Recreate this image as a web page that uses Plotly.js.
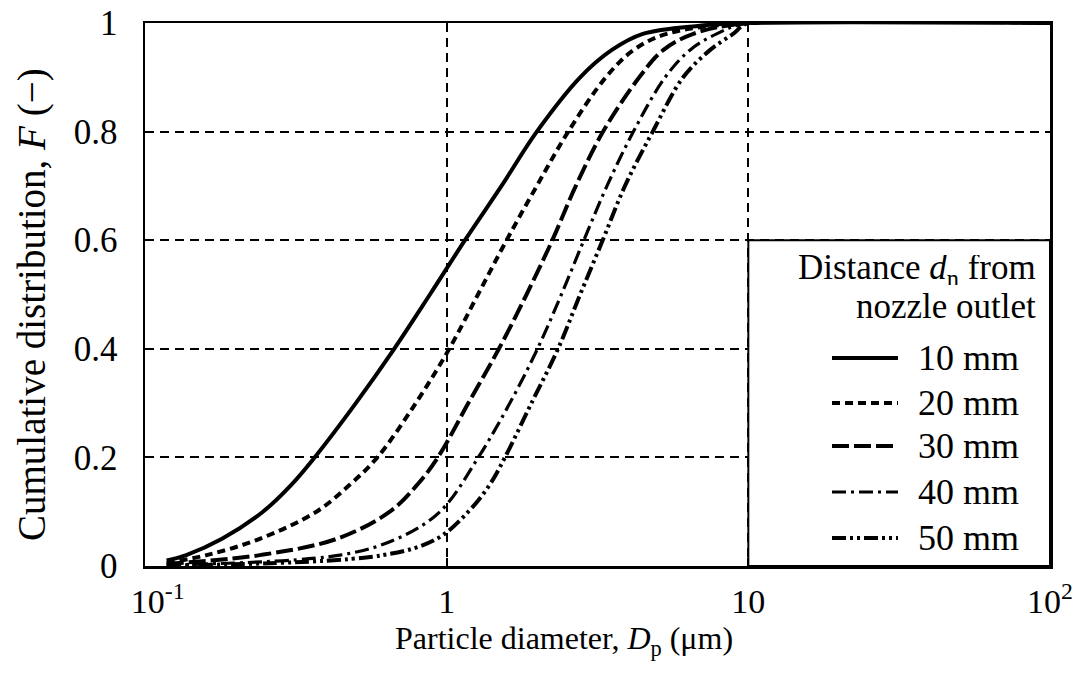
<!DOCTYPE html>
<html>
<head>
<meta charset="utf-8">
<script src="https://cdn.plot.ly/plotly-3.0.1.min.js"></script>
<style>html,body{margin:0;padding:0;background:#fff;}#chart{width:1085px;height:688px;}</style>
</head>
<body>
<div id="chart"></div>
<script>
// ---- data ----
const seriesNames = ["10 mm", "20 mm", "30 mm", "40 mm", "50 mm"];

const d10 = [0.118, 0.137, 0.18, 0.246, 0.306, 0.365, 0.50, 0.67, 0.88, 1.15, 1.52, 1.99, 2.77, 3.52, 4.47, 6.9, 10, 100];
const F10 = [0.010, 0.02, 0.05, 0.10, 0.15, 0.20, 0.30, 0.40, 0.50, 0.60, 0.70, 0.80, 0.90, 0.95, 0.98, 0.995, 1, 1];

const d20 = [0.118, 0.16, 0.24, 0.37, 0.478, 0.589, 0.79, 1.02, 1.27, 1.58, 1.99, 2.53, 3.37, 4.16, 5.36, 10, 100];
const F20 = [0.006, 0.02, 0.05, 0.10, 0.15, 0.20, 0.30, 0.40, 0.50, 0.60, 0.70, 0.80, 0.90, 0.95, 0.98, 1, 1];

const d30 = [0.118, 0.24, 0.432, 0.648, 0.80, 0.935, 1.18, 1.49, 1.84, 2.24, 2.68, 3.30, 4.35, 5.22, 6.57, 10, 100];
const F30 = [0.004, 0.02, 0.05, 0.10, 0.15, 0.20, 0.30, 0.40, 0.50, 0.60, 0.70, 0.80, 0.90, 0.95, 0.98, 1, 1];

const d40 = [0.118, 0.443, 0.683, 0.95, 1.273, 1.62, 2.0, 2.40, 2.85, 3.40, 4.16, 5.30, 6.40, 7.85, 10, 100];
const F40 = [0.002, 0.02, 0.05, 0.10, 0.20, 0.30, 0.40, 0.50, 0.60, 0.70, 0.80, 0.90, 0.95, 0.98, 1, 1];

const d50 = [0.118, 0.615, 0.927, 1.18, 1.39, 1.56, 1.91, 2.34, 2.77, 3.29, 3.90, 4.82, 6.08, 7.46, 8.9, 10, 100];
const F50 = [0.001, 0.02, 0.05, 0.10, 0.15, 0.20, 0.30, 0.40, 0.50, 0.60, 0.70, 0.80, 0.90, 0.95, 0.98, 1, 1];

const xTickVals = [0.1, 1, 10, 100];
const xTickText = ["\u00a0\u00a0\u00a010<sup>-1</sup>", "1", "10", "10<sup>2</sup>"];
const yTickVals = [0, 0.2, 0.4, 0.6, 0.8, 1];
const yTickText = ["0", "0.2", "0.4", "0.6", "0.8", "1"];

const legendTitle1 = "Distance <i>d</i><sub>n</sub> from";
const legendTitle2 = "nozzle outlet";
const xTitle = "Particle diameter, <i>D</i><sub>p</sub> (μm)";
const yTitle = "Cumulative distribution, <i>F</i> (−)";

// ---- styles ----
const styles = [
  {width: 4, dash: "solid"},
  {width: 4, dash: "8px,5px"},
  {width: 4, dash: "17px,5px"},
  {width: 3.2, dash: "14px,5px,3px,5px"},
  {width: 4, dash: "14px,4px,3px,4px,3px,4px"}
];
const xs = [d10, d20, d30, d40, d50];
const ys = [F10, F20, F30, F40, F50];

const traces = xs.map((x, i) => ({
  type: "scatter", mode: "lines", x: x, y: ys[i], name: seriesNames[i],
  line: {color: "black", width: styles[i].width, dash: styles[i].dash, shape: "spline", smoothing: 1},
  showlegend: false, hoverinfo: "skip"
}));

// plot area in pixels
const L = 145, R = 1050, T = 23, B = 566;
const px = p => (p - L) / (R - L);
const py = p => (B - p) / (B - T);

const FONT = "Liberation Serif";
const LEGSIZE = 36;

const shapes = [
  {type: "rect", xref: "x", yref: "y", x0: 10, x1: 100, y0: 0, y1: 0.6,
   fillcolor: "white", line: {color: "black", width: 2}, layer: "above"}
];
const annotations = [
  {xref: "paper", yref: "paper", x: px(1038), y: py(270), xanchor: "right", yanchor: "middle",
   height: 30, valign: "middle",
   text: legendTitle1, showarrow: false, font: {family: FONT, size: 35, color: "black"}},
  {xref: "paper", yref: "paper", x: px(1038), y: py(306), xanchor: "right", yanchor: "middle",
   height: 30, valign: "middle",
   text: legendTitle2, showarrow: false, font: {family: FONT, size: 35, color: "black"}},
  {xref: "paper", yref: "paper", x: px(564), y: py(640), xanchor: "center", yanchor: "middle",
   text: xTitle, showarrow: false, font: {family: FONT, size: 32, color: "black"}},
  {xref: "paper", yref: "paper", x: px(32), y: py(305), xanchor: "center", yanchor: "middle",
   text: yTitle, textangle: -90, showarrow: false, font: {family: FONT, size: 39, color: "black"}}
];
const rowY = [358, 403, 446, 492, 538];
rowY.forEach((r, i) => {
  shapes.push({type: "line", xref: "paper", yref: "paper", x0: px(832), x1: px(898), y0: py(r), y1: py(r),
    line: {color: "black", width: styles[i].width, dash: styles[i].dash}, layer: "above"});
  annotations.push({xref: "paper", yref: "paper", x: px(916), y: py(r), xanchor: "left", yanchor: "middle",
    height: 40, valign: "middle",
    text: seriesNames[i], showarrow: false, font: {family: FONT, size: LEGSIZE, color: "black"}});
});

const layout = {
  width: 1085, height: 688,
  margin: {l: L, r: 1085 - R, t: T, b: 688 - B},
  paper_bgcolor: "white", plot_bgcolor: "white",
  font: {family: FONT, color: "black", size: 32},
  showlegend: false,
  xaxis: {
    type: "log", range: [-1, 2],
    tickvals: xTickVals, ticktext: xTickText,
    ticks: "inside", ticklen: 8, tickwidth: 2, tickcolor: "black",
    showline: true, linecolor: "black", linewidth: 2.5, mirror: true,
    showgrid: true, gridcolor: "black", gridwidth: 2, griddash: "9px,6px",
    zeroline: false,
    tickfont: {family: FONT, size: 34, color: "black"},
    ticklabelstandoff: 4
  },
  yaxis: {
    range: [0, 1],
    tickvals: yTickVals, ticktext: yTickText,
    ticks: "inside", ticklen: 8, tickwidth: 2, tickcolor: "black",
    showline: true, linecolor: "black", linewidth: 2.5, mirror: true,
    showgrid: true, gridcolor: "black", gridwidth: 2, griddash: "9px,6px",
    zeroline: false,
    tickfont: {family: FONT, size: 35, color: "black"},
    ticklabelstandoff: 18
  },
  shapes: shapes,
  annotations: annotations
};

Plotly.newPlot("chart", traces, layout, {displayModeBar: false, staticPlot: true});
</script>
</body>
</html>
